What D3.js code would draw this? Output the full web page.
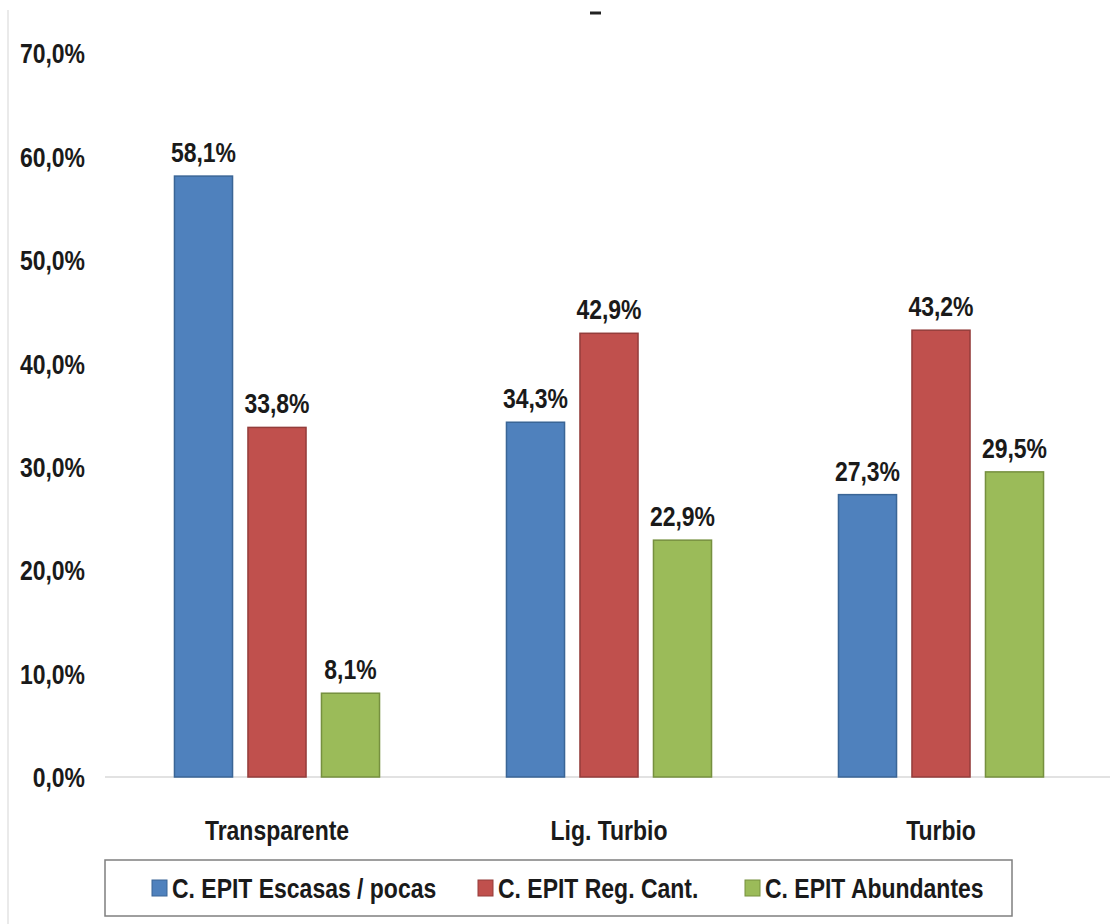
<!DOCTYPE html>
<html>
<head>
<meta charset="utf-8">
<script src="https://cdn.jsdelivr.net/npm/d3@7"></script>
<style>
  html, body { margin: 0; padding: 0; background: #fff; }
  svg { display: block; }
  text { font-family: "Liberation Sans", Arial, sans-serif; font-weight: bold; fill: #1a1a1a; }
</style>
</head>
<body>
<svg id="chart" width="1115" height="924"></svg>
<script>
// Turbidity categories and the three series (percent)
const categories = ["Transparente", "Lig. Turbio", "Turbio"];
const seriesNames = ["C. EPIT Escasas / pocas", "C. EPIT Reg. Cant.", "C. EPIT Abundantes"];
const escasas = [58.1, 34.3, 27.3];
const regCant = [33.8, 42.9, 43.2];
const abundantes = [8.1, 22.9, 29.5];
const yTicks = [0, 10, 20, 30, 40, 50, 60, 70];

const seriesValues = [escasas, regCant, abundantes];
const fills = ["#4F81BD", "#C0504D", "#9BBB59"];
const strokes = ["#3A6596", "#943D3B", "#76903F"];

const svg = d3.select("#chart");
const fmt = v => d3.format(".1f")(v).replace(".", ",") + "%";

const x0 = d3.scaleBand().domain(categories).range([111, 1107]);
const x1 = d3.scaleBand().domain(seriesNames).range([0, 220.5])
  .paddingInner(0.21).paddingOuter(0.105);
const y = d3.scaleLinear().domain([0, 70]).range([777, 53]);

// faint left border of the chart area
svg.append("line")
  .attr("x1", 8).attr("x2", 8).attr("y1", 10).attr("y2", 924)
  .attr("stroke", "#e3e3e3").attr("stroke-width", 1.5);

// remnant of the title stroke at the top
svg.append("line")
  .attr("x1", 590).attr("x2", 601).attr("y1", 13).attr("y2", 13)
  .attr("stroke", "#222").attr("stroke-width", 3);

// y axis labels
const yAxis = svg.append("g")
  .attr("transform", "translate(95,0)")
  .call(d3.axisLeft(y).tickValues(yTicks).tickSize(0).tickPadding(10).tickFormat(fmt));
yAxis.select(".domain").remove();
yAxis.selectAll("text")
  .style("font-size", "28px")
  .attr("dy", "0.35em");

// baseline
svg.append("line")
  .attr("x1", 105).attr("x2", 1110)
  .attr("y1", y(0)).attr("y2", y(0))
  .attr("stroke", "#d9d9d9").attr("stroke-width", 1.5);

// bars and value labels
const groups = svg.selectAll("g.cat")
  .data(categories)
  .join("g")
  .attr("class", "cat")
  .attr("transform", c => `translate(${x0(c) + x0.bandwidth() / 2 - 110.25},0)`);

groups.each(function (c, ci) {
  const g = d3.select(this);
  const rows = seriesNames.map((s, si) => ({ s, si, v: seriesValues[si][ci] }));
  g.selectAll("rect")
    .data(rows)
    .join("rect")
    .attr("x", d => x1(d.s))
    .attr("width", x1.bandwidth())
    .attr("y", d => y(d.v))
    .attr("height", d => y(0) - y(d.v))
    .attr("fill", d => fills[d.si])
    .attr("stroke", d => strokes[d.si])
    .attr("stroke-width", 1.5);
  g.selectAll("text.val")
    .data(rows)
    .join("text")
    .attr("class", "val")
    .attr("x", d => x1(d.s) + x1.bandwidth() / 2)
    .attr("y", d => y(d.v) - 14)
    .attr("text-anchor", "middle")
    .style("font-size", "28px")
    .text(d => fmt(d.v));
});

// category labels
svg.selectAll("text.cat")
  .data(categories)
  .join("text")
  .attr("class", "cat")
  .attr("x", c => x0(c) + x0.bandwidth() / 2)
  .attr("y", 840)
  .attr("text-anchor", "middle")
  .style("font-size", "28px")
  .text(c => c);

// legend
const legend = svg.append("g");
legend.append("rect")
  .attr("x", 105).attr("y", 860).attr("width", 907).attr("height", 56)
  .attr("fill", "#fff").attr("stroke", "#7f7f7f").attr("stroke-width", 1.5);
const legendX = [152, 478, 745];
const items = legend.selectAll("g.item")
  .data(seriesNames)
  .join("g")
  .attr("class", "item")
  .attr("transform", (d, i) => `translate(${legendX[i]},888)`);
items.append("rect")
  .attr("x", 0).attr("y", -8).attr("width", 15).attr("height", 16)
  .attr("fill", (d, i) => fills[i])
  .attr("stroke", (d, i) => strokes[i]).attr("stroke-width", 1);
items.append("text")
  .attr("x", 20).attr("y", 0).attr("dy", "0.35em")
  .style("font-size", "28px")
  .text(d => d);

// condense all text to a narrow face
svg.selectAll("text").each(function () {
  const w = this.getComputedTextLength();
  d3.select(this)
    .attr("textLength", (w * 0.82).toFixed(1))
    .attr("lengthAdjust", "spacingAndGlyphs");
});
</script>
</body>
</html>
